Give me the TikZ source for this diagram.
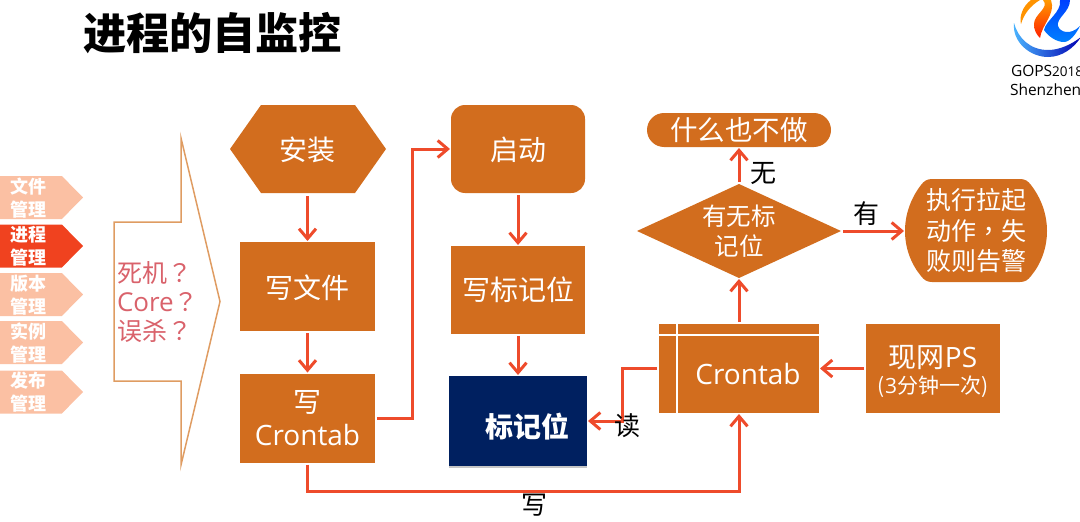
\documentclass[tikz,border=0pt]{standalone}
\usepackage{fontspec}
\setmainfont{Noto Sans CJK SC}
\newfontfamily\lat{Open Sans}
\newfontfamily\tc{Noto Sans CJK TC}
\usetikzlibrary{arrows.meta,shapes.geometric,shapes.misc,shapes.symbols,shadows,positioning}
\definecolor{boxo}{HTML}{D26D1E}
\definecolor{navyb}{HTML}{002060}
\definecolor{redl}{HTML}{EE4B2B}
\definecolor{tabp}{HTML}{FBC0A3}
\definecolor{tabr}{HTML}{F0421F}
\definecolor{outl}{HTML}{DF9C62}
\definecolor{pinkt}{HTML}{D9626B}
\tikzset{
 x=1pt,y=-1pt,
 every node/.style={inner sep=0pt,outer sep=0pt,align=center,text=white},
 box/.style={fill=boxo,minimum width=135pt,minimum height=89pt},
 boxtxt/.style={font=\fontsize{28}{33}\selectfont},
 conn/.style={draw=redl,line width=3pt,shorten <=2pt,shorten >=1pt,-{Straight Barb[length=10pt,width=17pt,line width=3pt]}},
 tab/.style={signal,signal to=east,signal pointer angle=91,fill=tabp,minimum width=83pt,minimum height=43pt,anchor=west},
 tabtxt/.style={text=white,font=\fontsize{18}{23}\selectfont\bfseries},
 lab/.style={text=black,font=\fontsize{26}{30}\selectfont}
}
\begin{document}
\begin{tikzpicture}
\useasboundingbox (0,0) rectangle (1080,522);
\begin{scope}
\clip (0,0) rectangle (1080,522);
\node[text=black,font=\fontsize{43.2}{48}\selectfont\bfseries,anchor=west] (title) at (83,33) {进程的自监控};
% logo
\shade[left color=cyan!60!blue!70,right color=blue!70!black] (1014,23) .. controls (1012,42) and (1030,57) .. (1048,57) .. controls (1062,57) and (1074,48) .. (1081,37) .. controls (1072,44) and (1060,50) .. (1048,50) .. controls (1030,50) and (1018,38) .. (1014,23) -- cycle;
\fill[orange!85!yellow] (1031,0) .. controls (1023,6) and (1019,16) .. (1021,24) .. controls (1024,14) and (1030,6) .. (1040,0) -- cycle;
\shade[top color=orange!80!yellow,bottom color=red!75!orange] (1043,0) .. controls (1050,8) and (1034,14) .. (1034,24) .. controls (1034,30) and (1036,34) .. (1040,38) .. controls (1042,24) and (1056,14) .. (1051,0) -- cycle;
\shade[top color=blue!75!cyan,bottom color=cyan!50!blue] (1060,0) .. controls (1062,12) and (1046,20) .. (1044,30) .. controls (1048,36) and (1056,42) .. (1064,42) .. controls (1070,42) and (1076,34) .. (1080,26) .. controls (1070,36) and (1060,32) .. (1058,26) .. controls (1056,18) and (1070,12) .. (1070,0) -- cycle;
\node[text=black,font=\lat\fontsize{15.5}{18}\selectfont,anchor=west] (gops) at (1011,71) {GOPS\fontsize{13.5}{18}\selectfont2018};
\node[text=black,font=\lat\fontsize{15.5}{18}\selectfont,anchor=west] (sz) at (1010,90) {Shenzhen};
\end{scope}
% tabs
\node[tab] (t1) at (0,197.5) {};
\node[tab,fill=tabr] (t2) at (0,246) {};
\node[tab] (t3) at (0,294.5) {};
\node[tab] (t4) at (0,342.5) {};
\node[tab] (t5) at (0,392) {};
\node[tabtxt,anchor=center] (t1t) at (28,198.5) {文件\\管理};
\node[tabtxt,anchor=center] (t2t) at (28,246.5) {进程\\管理};
\node[tabtxt,anchor=center] (t3t) at (28,295.5) {版本\\管理};
\node[tabtxt,anchor=center] (t4t) at (28,343.5) {实例\\管理};
\node[tabtxt,anchor=center] (t5t) at (28,392.5) {发布\\管理};
% big arrow
\draw[outl,line width=1.5pt,line join=miter] (114,222) -- (181,222) -- (181,138) -- (220,301.5) -- (181,465) -- (181,381) -- (114,381) -- cycle;
\node[text=pinkt,font=\fontsize{25}{29}\selectfont,anchor=west,align=left] (bigt) at (117,302) {死机{\tc ？}\\{\lat\fontsize{26}{29}\selectfont Core}{\tc ？}\\误杀{\tc ？}};
% boxes
\fill[boxo] (230,149) -- (261,105) -- (355,105) -- (386,149) -- (355,193) -- (261,193) -- cycle;
\node[boxtxt,minimum width=156pt,minimum height=88pt] (install) at (307.5,150) {安装};
\node[box] (file) at (307.5,286.5) {};
\node[boxtxt] (filet) at (307.5,288) {写文件};
\node[box] (wcron) at (307.5,418) {};
\node[boxtxt] (wcront) at (307.5,418) {写\\{\lat Crontab}};
\node[box,rounded corners=14pt,minimum width=134pt,minimum height=88pt] (start) at (518,149) {};
\node[boxtxt] (startt) at (518,150) {启动};
\node[box,minimum width=134pt,minimum height=88pt] (wflag) at (518,290) {};
\node[boxtxt] (wflagt) at (518,290) {写标记位};
\node[fill=navyb,minimum width=138pt,minimum height=90pt,drop shadow={shadow xshift=0pt,shadow yshift=-2pt,opacity=.45}] (flag) at (518,421) {};
\node[font=\fontsize{28}{34}\selectfont\bfseries] (flagt) at (527,427) {标记位};
\node[fill=boxo,minimum width=160pt,minimum height=89pt] (cron) at (739,368.5) {};
\node[font=\lat\fontsize{28}{34}\selectfont] (cront) at (748,374) {Crontab};
\draw[white,line width=2.5pt] (677,324) -- (677,413) (659,335) -- (819,335);
\node[fill=boxo,minimum width=134pt,minimum height=89pt] (ps) at (933,368.5) {};
\node[font=\fontsize{28}{30}\selectfont] (pst) at (933,371) {现网{\lat PS}\\[-4pt]{\fontsize{21}{24}\selectfont ({\lat 3}分钟一次)}};
\node[diamond,aspect=2.17,fill=boxo,minimum width=204pt,minimum height=94pt,font=\fontsize{24.5}{30}\selectfont] (dec) at (739,231) {有无标\\记位};
\node[rounded rectangle,fill=boxo,minimum width=184pt,minimum height=34pt,font=\fontsize{27.5}{30}\selectfont] (none) at (739,130) {什么也不做};
\fill[boxo] (932,179) -- (1020,179) .. controls (1025,179) and (1028,181) .. (1031,185) .. controls (1041,198) and (1047,214) .. (1047,231) .. controls (1047,248) and (1041,264) .. (1031,276) .. controls (1028,280) and (1025,282) .. (1020,282) -- (932,282) .. controls (927,282) and (924,280) .. (921,276) .. controls (911,264) and (905,248) .. (905,231) .. controls (905,214) and (911,198) .. (921,185) .. controls (924,181) and (927,179) .. (932,179) -- cycle;
\node[minimum width=142pt,minimum height=103pt,font=\fontsize{25}{30.5}\selectfont] (act) at (976,231) {执行拉起\\动作{\tc ，}失\\败则告警};
% connectors
\draw[conn] (install.south) -- (file.north);
\draw[conn] (file) -- (wcron);
\draw[conn] (wcron.east) -- ++(37,0) |- (start.west);
\draw[conn] (start) -- (wflag);
\draw[conn] (wflag) -- (flag);
\draw[conn] (cron.west) -- ++(-37,0) |- (flag.east);
\draw[conn] (wcron.south) -- ++(0,29) -| (cron.south);
\draw[conn] (cron.north) -- (dec.south);
\draw[conn] (dec.north) -- (none.south);
\draw[conn] (dec.east) -- (act.west);
\draw[conn] (ps.west) -- (cron.east);
% labels
\node[lab] (lwu) at (763,173) {无};
\node[lab] (lyou) at (866,214) {有};
\node[lab] (ldu) at (627,426) {读};
\node[lab] (lxie) at (534,505) {写};
\end{tikzpicture}
\end{document}
